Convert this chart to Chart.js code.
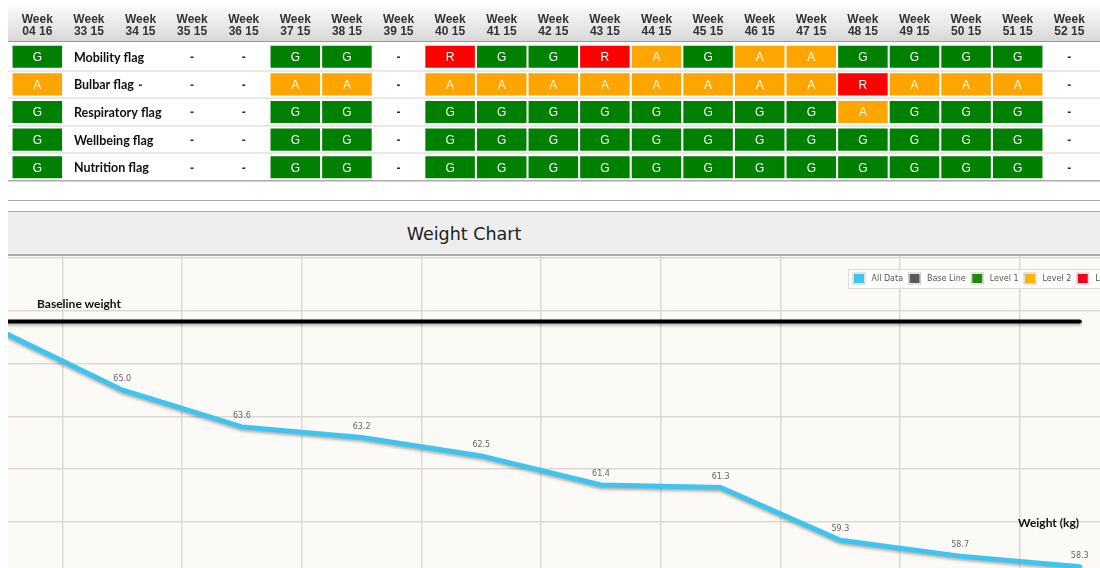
<!DOCTYPE html>
<html>
<head>
<meta charset="utf-8">
<script src="https://cdn.jsdelivr.net/npm/chart.js@4.4.0/dist/chart.umd.min.js"></script>
<style>
  body { margin: 0; width: 1100px; height: 568px; overflow: hidden; background: #fff; position: relative; }
  #flagHead { position: absolute; left: 8px; top: 7px; width: 1092px; height: 34px; background: linear-gradient(#f9f9f9, #d8d8d8); border-bottom: 1px solid #999; }
  #flags { position: absolute; left: 0; top: 0; }
  .rule { position: absolute; left: 8px; width: 1092px; height: 1px; background: #aaa; }
  #titleBand { position: absolute; left: 8px; top: 212px; width: 1092px; height: 42px; background: #eee; border-bottom: 2px solid #aaa; }
  #titleBand span { position: absolute; left: 356px; top: 0; width: 200px; text-align: center; font: 17.5px "DejaVu Sans", sans-serif; line-height: 44px; color: #222; }
  #weightBox { position: absolute; left: 8px; top: 256px; width: 1092px; height: 312px; overflow: hidden; background: #fcfaf6; }
  #weight { position: absolute; left: 0; top: 0; }
  .note { position: absolute; font: bold 12px Lato, sans-serif; line-height: 14px; color: #111; white-space: nowrap; }
</style>
</head>
<body>
<div id="flagHead"></div>
<canvas id="flags" width="1100" height="183"></canvas>
<div class="rule" style="top:200px"></div>
<div class="rule" style="top:211px"></div>
<div id="titleBand"><span>Weight Chart</span></div>
<div id="weightBox"><canvas id="weight" width="1140" height="312"></canvas></div>
<div class="note" style="left:37px; top:297px">Baseline weight</div>
<div class="note" style="left:1018px; top:516px">Weight (kg)</div>

<script>
// flag table
const weeks = ['04 16', '33 15', '34 15', '35 15', '36 15', '37 15', '38 15', '39 15', '40 15', '41 15', '42 15',
               '43 15', '44 15', '45 15', '46 15', '47 15', '48 15', '49 15', '50 15', '51 15', '52 15'];
const flagNames = ['Mobility flag', 'Bulbar flag', 'Respiratory flag', 'Wellbeing flag', 'Nutrition flag'];
const mobility    = ['G', '', '',  '-', '-', 'G', 'G', '-', 'R', 'G', 'G', 'R', 'A', 'G', 'A', 'A', 'G', 'G', 'G', 'G', '-'];
const bulbar      = ['A', '', '-', '-', '-', 'A', 'A', '-', 'A', 'A', 'A', 'A', 'A', 'A', 'A', 'A', 'R', 'A', 'A', 'A', '-'];
const respiratory = ['G', '', '',  '-', '-', 'G', 'G', '-', 'G', 'G', 'G', 'G', 'G', 'G', 'G', 'G', 'A', 'G', 'G', 'G', '-'];
const wellbeing   = ['G', '', '',  '-', '-', 'G', 'G', '-', 'G', 'G', 'G', 'G', 'G', 'G', 'G', 'G', 'G', 'G', 'G', 'G', '-'];
const nutrition   = ['G', '', '',  '-', '-', 'G', 'G', '-', 'G', 'G', 'G', 'G', 'G', 'G', 'G', 'G', 'G', 'G', 'G', 'G', '-'];

// weight chart
const weights = [67.2, 65.0, 63.6, 63.2, 62.5, 61.4, 61.3, 59.3, 58.7, 58.3];
const baseline = 67.6;
const weightTicks = [60, 62, 64, 66, 68, 70];
const legendNames = ['All Data', 'Base Line', 'Level 1', 'Level 2', 'Level 3'];
const legendColors = ['#3ec5ef', '#5a5a5a', '#1e8a0c', '#f8b600', '#ee0016'];

const flagRows = [mobility, bulbar, respiratory, wellbeing, nutrition];
const flagColors = { G: 'green', A: 'orange', R: 'red' };

const flagText = {
    id: 'flagText',
    afterDatasetsDraw(chart) {
        const ctx = chart.ctx;
        const x = chart.scales.x, y = chart.scales.y;
        ctx.save();
        ctx.textBaseline = 'middle';
        flagRows.forEach((row, r) => {
            const cy = y.getPixelForValue(r);
            ctx.textAlign = 'center';
            row.forEach((f, c) => {
                if (!f) return;
                if (f === '-') {
                    ctx.fillStyle = '#333';
                    ctx.font = 'bold 12px "Liberation Sans"';
                } else {
                    ctx.fillStyle = '#fff';
                    ctx.font = '12px "Liberation Sans"';
                }
                ctx.fillText(f, x.getPixelForValue(c), cy + 1);
            });
            ctx.textAlign = 'left';
            ctx.fillStyle = '#111';
            ctx.font = 'bold 12.5px Lato';
            ctx.fillText(flagNames[r], x.getPixelForValue(1) - 15, cy + 1);
        });
        ctx.restore();
    }
};

new Chart(document.getElementById('flags'), {
    type: 'bar',
    data: {
        labels: flagNames,
        datasets: weeks.map((w, c) => ({
            label: w,
            data: flagRows.map(row => flagColors[row[c]] ? [c - 0.48, c + 0.48] : null),
            backgroundColor: flagRows.map(row => flagColors[row[c]] || 'transparent'),
            borderWidth: 0
        }))
    },
    options: {
        indexAxis: 'y',
        responsive: false,
        animation: false,
        devicePixelRatio: 1,
        layout: { padding: { left: 8, top: 7, right: 0, bottom: 2 } },
        datasets: { bar: { grouped: false, categoryPercentage: 1, barPercentage: 0.8 } },
        plugins: { legend: { display: false }, tooltip: { enabled: false } },
        scales: {
            x: {
                type: 'linear',
                position: 'top',
                min: -0.568,
                max: 20.595,
                afterBuildTicks: s => { s.ticks = weeks.map((w, i) => ({ value: i })); },
                afterFit: s => { s.height = 36; },
                ticks: {
                    autoSkip: false,
                    maxRotation: 0,
                    padding: -3,
                    color: '#333',
                    font: { family: 'Liberation Sans', size: 12, weight: 'bold', lineHeight: 1 },
                    callback: v => ['Week', weeks[v]]
                },
                grid: { display: false },
                border: { display: false }
            },
            y: {
                type: 'category',
                offset: true,
                afterFit: s => { s.width = 0; },
                ticks: { display: false },
                grid: {
                    offset: true,
                    drawTicks: false,
                    color: c => c.type === 'scale' ? '#aaa' : (c.index === 0 ? 'rgba(0,0,0,0)' : '#e8e8e8'),
                    lineWidth: c => c.type === 'scale' ? 1.5 : 2
                },
                border: { display: false }
            }
        }
    },
    plugins: [flagText]
});

const lineShadow = {
    id: 'lineShadow',
    beforeDatasetDraw(chart) {
        const ctx = chart.ctx;
        ctx.save();
        ctx.shadowColor = 'rgba(0,0,0,0.3)';
        ctx.shadowBlur = 3;
        ctx.shadowOffsetY = 2;
    },
    afterDatasetDraw(chart) {
        chart.ctx.restore();
    }
};

const pointLabels = {
    id: 'pointLabels',
    afterDatasetsDraw(chart) {
        const ctx = chart.ctx;
        const meta = chart.getDatasetMeta(0);
        ctx.save();
        ctx.font = '8px "DejaVu Sans"';
        ctx.fillStyle = '#666';
        ctx.textAlign = 'center';
        ctx.textBaseline = 'middle';
        meta.data.forEach((pt, i) => {
            if (pt.x < chart.chartArea.left) return;
            ctx.fillText(weights[i].toFixed(1), pt.x, pt.y - 11);
        });
        ctx.restore();
    }
};

const boxLegend = {
    id: 'boxLegend',
    afterDraw(chart) {
        const ctx = chart.ctx;
        const left = 840, top = 13, h = 19;
        ctx.save();
        ctx.font = '8px "DejaVu Sans"';
        let w = 4;
        legendNames.forEach(n => { w += 13 + 6 + ctx.measureText(n).width + 5; });
        ctx.fillStyle = 'rgba(255,255,255,0.7)';
        ctx.fillRect(left, top, w, h);
        ctx.strokeStyle = '#ddd';
        ctx.lineWidth = 1;
        ctx.strokeRect(left + 0.5, top + 0.5, w, h);
        let x = left + 4.5;
        legendNames.forEach((n, i) => {
            ctx.fillStyle = '#fff';
            ctx.fillRect(x, top + 3.5, 13, 12);
            ctx.strokeStyle = '#c8c8c8';
            ctx.strokeRect(x + 0.5, top + 4, 12, 11);
            ctx.fillStyle = legendColors[i];
            ctx.fillRect(x + 1.5, top + 5, 10, 9);
            x += 13 + 6;
            ctx.fillStyle = '#555';
            ctx.textBaseline = 'middle';
            ctx.fillText(n, x, top + h / 2 + 0.5);
            x += ctx.measureText(n).width + 5;
        });
        ctx.restore();
    }
};

new Chart(document.getElementById('weight'), {
    type: 'line',
    data: {
        datasets: [
            {
                label: legendNames[0],
                data: weights.map((v, i) => ({ x: i, y: v })),
                borderColor: legendColors[0],
                borderWidth: 5
            },
            {
                label: legendNames[1],
                data: weights.map((v, i) => ({ x: i, y: baseline })),
                borderColor: '#000',
                borderWidth: 4
            },
            { label: legendNames[2], data: [], borderColor: legendColors[2] },
            { label: legendNames[3], data: [], borderColor: legendColors[3] },
            { label: legendNames[4], data: [], borderColor: legendColors[4] }
        ]
    },
    options: {
        responsive: false,
        animation: false,
        devicePixelRatio: 1,
        layout: { padding: 0 },
        elements: { point: { radius: 0 }, line: { tension: 0, borderCapStyle: 'round' } },
        plugins: { legend: { display: false }, tooltip: { enabled: false } },
        scales: {
            x: {
                type: 'linear',
                min: 0.046,
                max: 9.57,
                afterBuildTicks: s => { s.ticks = weights.map((v, i) => ({ value: i + 0.5 })); },
                afterFit: s => { s.height = 0; },
                ticks: { display: false },
                grid: { color: '#dcd9d4', lineWidth: 1.5, drawTicks: false },
                border: { display: false }
            },
            y: {
                min: 58.25,
                max: 70.08,
                afterBuildTicks: s => { s.ticks = weightTicks.map(v => ({ value: v })); },
                afterFit: s => { s.width = 0; },
                ticks: { display: false },
                grid: { color: '#dcd9d4', lineWidth: 1.5, drawTicks: false },
                border: { display: false }
            }
        }
    },
    plugins: [lineShadow, pointLabels, boxLegend]
});
</script>
</body>
</html>
